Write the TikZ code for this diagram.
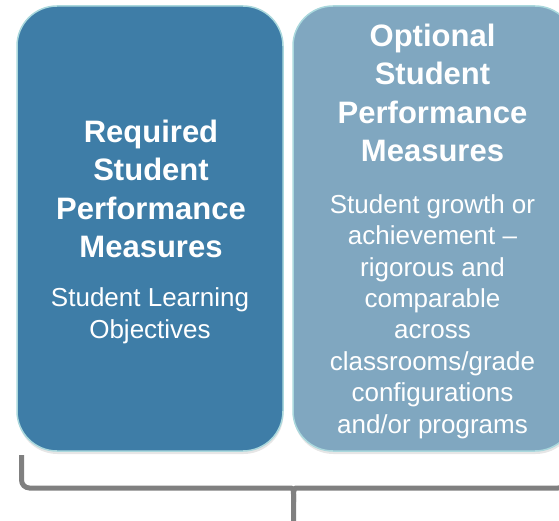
\documentclass[tikz,border=0pt]{standalone}
\usepackage{fontspec}
\setmainfont{Liberation Sans}
\usetikzlibrary{shadows,positioning}

\definecolor{reqblue}{RGB}{62,125,167}
\definecolor{optblue}{RGB}{128,167,192}
\definecolor{rimcyan}{RGB}{170,216,221}
\definecolor{bracegray}{RGB}{128,128,128}

\tikzset{
  measurebox/.style = {rounded corners = 40pt,
                       draw           = rimcyan,
                       line width     = 1.5pt,
                       minimum height = 445pt,
                       drop shadow    = {shadow xshift = 0.5pt,
                                         shadow yshift = -3pt,
                                         opacity       = 0.2}},
  headtext/.style   = {text  = white,
                       align = center,
                       inner sep = 0pt,
                       anchor    = base,
                       font  = \fontsize{31}{38.5}\selectfont\bfseries},
  bodytext/.style   = {text  = white,
                       align = center,
                       inner sep = 0pt,
                       anchor    = base,
                       font  = \fontsize{26}{31.4}\selectfont},
  bracket/.style    = {draw       = bracegray,
                       line width = 5pt,
                       rounded corners = 8pt}
}

\begin{document}
\begin{tikzpicture}[x=1pt, y=1pt]
  \useasboundingbox (0,0) rectangle (559,-521);
  \node [measurebox, fill = reqblue, minimum width = 266pt]
    (required) at (150,-228.5) {};
  \node [measurebox, fill = optblue, minimum width = 282pt]
    (optional) at (434,-228.5) {};
  \node [headtext] (reqhead) at (151,-258)
    {Required\\Student\\Performance\\Measures};
  \node [bodytext] (reqbody) at (150,-338)
    {Student Learning\\Objectives};
  \node [headtext] (opthead) at (432.5,-162)
    {Optional\\Student\\Performance\\Measures};
  \node [bodytext] (optbody) at (432.5,-433)
    {Student growth or\\achievement --\\rigorous and\\comparable\\across\\classrooms/grade\\configurations\\and/or programs};
  \draw [bracket] (21.5,-455) |- (283,-488)
          .. controls (293.5,-488) and (293.5,-492) .. (293.5,-502)
          -- (293.5,-530);
  \draw [bracket] (293.5,-502)
          .. controls (293.5,-492) and (293.5,-488) .. (304,-488)
          -| (566,-455);
\end{tikzpicture}
\end{document}
